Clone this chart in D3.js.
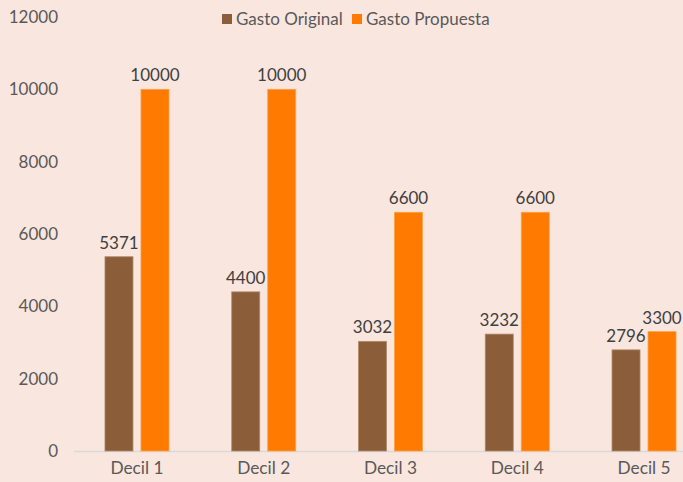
<!DOCTYPE html>
<html>
<head>
<meta charset="utf-8">
<script src="https://cdn.jsdelivr.net/npm/d3@7"></script>
<style>
html,body{margin:0;padding:0;background:#F9E6DE;}
svg{display:block;font-family:Lato, "Open Sans", sans-serif;}
</style>
</head>
<body>
<svg id="chart" width="683" height="482"></svg>
<script>
const categories = ["Decil 1", "Decil 2", "Decil 3", "Decil 4", "Decil 5"];
const gastoOriginal = [5371, 4400, 3032, 3232, 2796];
const gastoPropuesta = [10000, 10000, 6600, 6600, 3300];
const seriesNames = ["Gasto Original", "Gasto Propuesta"];
const seriesColors = ["#8B5D38", "#FF7A00"];
const seriesStrokes = ["#B08A68", "#FFA040"];
const yTicks = [0, 2000, 4000, 6000, 8000, 10000, 12000];

const svg = d3.select("#chart");
const W = 683, H = 482;
const FS = 17;
svg.append("rect").attr("width", W).attr("height", H).attr("fill", "#F9E6DE");

const x = d3.scaleBand().domain(categories).range([73.6, 707.4]);
const y = d3.scaleLinear().domain([0, 12000]).range([451, 17]);

// y axis labels
const yAxis = d3.axisLeft(y).tickValues(yTicks).tickSize(0).tickPadding(0).tickFormat(d3.format("d"));
const gy = svg.append("g").attr("transform", "translate(58,0)").call(yAxis);
gy.select(".domain").remove();
gy.selectAll("text").attr("font-size", FS).attr("fill", "#595959").attr("font-family", "Lato, sans-serif");

// x axis
const xAxis = d3.axisBottom(x).tickSize(0).tickPadding(11);
const gx = svg.append("g").attr("transform", `translate(0,${y(0)})`).call(xAxis);
gx.select(".domain").attr("stroke", "#D9D9D9").attr("stroke-width", 1.5);
gx.selectAll("text").attr("font-size", FS + 0.3).attr("fill", "#595959").attr("font-family", "Lato, sans-serif");

const series = [gastoOriginal, gastoPropuesta];
const barW = 28, gap = 4;
series.forEach((vals, si) => {
  const offset = si === 0 ? -gap - barW : gap;
  const g = svg.append("g");
  g.selectAll("rect").data(vals).enter().append("rect")
    .attr("x", (d, i) => x(categories[i]) + x.bandwidth() / 2 + offset)
    .attr("y", d => y(d))
    .attr("width", barW)
    .attr("height", d => y(0) - y(d))
    .attr("fill", seriesColors[si])
    .attr("stroke", seriesStrokes[si])
    .attr("stroke-width", 0.8);
  g.selectAll("text").data(vals).enter().append("text")
    .attr("x", (d, i) => x(categories[i]) + x.bandwidth() / 2 + offset + barW / 2)
    .attr("y", d => y(d) - 8)
    .attr("text-anchor", "middle")
    .attr("font-size", FS)
    .attr("fill", "#404040")
    .text(d => d);
});

// legend
const legend = [{x: 222, name: seriesNames[0], c: seriesColors[0]}, {x: 352, name: seriesNames[1], c: seriesColors[1]}];
legend.forEach(l => {
  svg.append("rect").attr("x", l.x).attr("y", 14).attr("width", 10).attr("height", 10).attr("fill", l.c);
  svg.append("text").attr("x", l.x + 14).attr("y", 25).attr("font-size", FS).attr("fill", "#595959").text(l.name);
});
</script>
</body>
</html>
